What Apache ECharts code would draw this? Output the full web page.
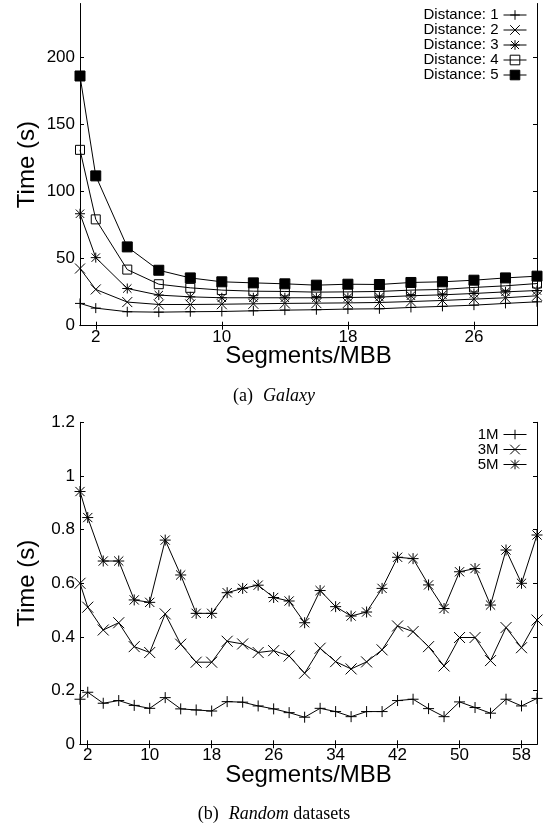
<!DOCTYPE html>
<html><head><meta charset="utf-8">
<script src="https://cdn.jsdelivr.net/npm/echarts@6/dist/echarts.min.js"></script>
<style>html,body{margin:0;padding:0;background:#fff}#c{width:548px;height:825px}</style>
</head><body><div id="c"></div>
<script>
// ---- Chart (a) Galaxy ----
const segA = [1,2,4,6,8,10,12,14,16,18,20,22,24,26,28,30];
const dist1 = [16.6,13.1,10.4,10.1,10.4,10.6,11.1,11.6,11.9,12.4,12.6,13.6,14.4,15.3,16.6,17.8];
const dist2 = [42.6,27.0,17.6,15.8,15.8,16.0,16.3,16.6,16.8,17.0,17.3,18.0,18.8,19.8,20.8,22.3];
const dist3 = [83.4,50.7,27.7,22.8,21.5,20.8,20.8,20.8,20.8,21.0,21.3,22.3,23.0,24.0,25.2,26.2];
const dist4 = [131,79.2,41.8,30.9,28.2,26.5,25.7,25.5,25.0,25.2,25.5,26.5,27.0,28.5,29.7,31.4];
const dist5 = [186,111.6,58.7,41.3,35.6,32.7,31.9,31.2,30.2,30.9,30.7,32.2,32.7,33.9,35.6,36.9];
const xTicksA = [2,10,18,26];
const yTicksA = [0,50,100,150,200];
const namesA = ['Distance: 1','Distance: 2','Distance: 3','Distance: 4','Distance: 5'];

// ---- Chart (b) Random datasets ----
const segB = [1,2,4,6,8,10,12,14,16,18,20,22,24,26,28,30,32,34,36,38,40,42,44,46,48,50,52,54,56,58,60];
const r1M = [0.168,0.194,0.153,0.163,0.145,0.134,0.174,0.132,0.128,0.124,0.159,0.157,0.143,0.132,0.118,0.101,0.134,0.122,0.103,0.122,0.122,0.163,0.168,0.133,0.103,0.158,0.137,0.116,0.168,0.143,0.171];
const r3M = [0.600,0.511,0.426,0.453,0.364,0.342,0.486,0.373,0.306,0.306,0.384,0.374,0.342,0.349,0.329,0.265,0.358,0.308,0.281,0.307,0.352,0.441,0.420,0.364,0.292,0.398,0.398,0.312,0.435,0.360,0.463];
const r5M = [0.942,0.845,0.683,0.683,0.538,0.529,0.761,0.631,0.488,0.488,0.565,0.581,0.593,0.547,0.534,0.453,0.573,0.513,0.478,0.493,0.581,0.697,0.692,0.594,0.506,0.643,0.655,0.519,0.724,0.600,0.780];
const xTicksB = [2,10,18,26,34,42,50,58];
const yTicksB = [0,0.2,0.4,0.6,0.8,1,1.2];
const namesB = ['1M','3M','5M'];

const SANS = 'Liberation Sans';
const SERIF = 'Liberation Serif';
const PLUS = 'path://M0,5L10,5M5,0L5,10';
const CROSS = 'path://M0,0L10,10M10,0L0,10';
const STAR = 'path://M0,5L10,5M5,0L5,10M0.8,0.8L9.2,9.2M9.2,0.8L0.8,9.2';
const SQUARE = 'path://M0,0L10,0L10,10L0,10Z';

const axisLine = {show:true, lineStyle:{color:'#000', width:1}};
function tick(vals){ return {show:true, inside:true, length:4, customValues:vals, lineStyle:{color:'#000', width:1}}; }
const labelStyle = {fontSize:17, color:'#000', fontFamily:SANS};

function xAxes(g, min, max, ticks){
  return [
    {type:'value', gridIndex:g, min, max, position:'bottom', axisLine, axisTick:tick(ticks),
     axisLabel:Object.assign({customValues:ticks, margin:3}, labelStyle), splitLine:{show:false},
     name:'Segments/MBB', nameLocation:'middle', nameGap:19, nameMoveOverlap:false,
     nameTextStyle:{fontSize:24, color:'#000', fontFamily:SANS}},
    {type:'value', gridIndex:g, min, max, position:'top', axisLine, axisTick:tick(ticks),
     axisLabel:{show:false}, splitLine:{show:false}}
  ];
}
function yAxes(g, min, max, ticks){
  return [
    {type:'value', gridIndex:g, min, max, position:'left', axisLine, axisTick:tick(ticks),
     axisLabel:Object.assign({customValues:ticks, margin:5}, labelStyle), splitLine:{show:false},
     name:'Time (s)', nameLocation:'middle', nameGap:41, nameMoveOverlap:false,
     nameTextStyle:{fontSize:24, color:'#000', fontFamily:SANS}},
    {type:'value', gridIndex:g, min, max, position:'right', axisLine, axisTick:tick(ticks),
     axisLabel:{show:false}, splitLine:{show:false}}
  ];
}
function pairs(xs, ys){ return xs.map((x,i)=>[x, ys[i]]); }
function ser(name, xi, yi, xs, ys, symbol, size, fill){
  return {type:'line', name, xAxisIndex:xi, yAxisIndex:yi, data:pairs(xs, ys),
    symbol, symbolSize:size, showAllSymbol:true,
    lineStyle:{color:'#000', width:1},
    itemStyle:{color:fill, borderColor:'#000', borderWidth:1},
    emphasis:{disabled:true}, silent:true, animation:false};
}
const legendBase = {orient:'vertical', right:21, align:'right', itemWidth:23, itemHeight:12,
  itemGap:0, padding:0, selectedMode:false,
  itemStyle:{borderWidth:1}, lineStyle:{width:1},
  textStyle:{fontSize:15, color:'#000', fontFamily:SANS, lineHeight:14.7}};
const capRich = {
  n:{fontFamily:SERIF, fontSize:18, color:'#000', fontWeight:'normal'},
  s:{fontFamily:SERIF, fontSize:18, width:10, fontWeight:'normal'},
  i:{fontFamily:SERIF, fontSize:18, fontStyle:'italic', color:'#000', fontWeight:'normal'}
};

const option = {
  backgroundColor:'#fff',
  animation:false,
  grid:[
    {left:80, right:11, top:3.5, height:322.2, containLabel:false},
    {left:80, right:11, top:422.3, height:322, containLabel:false}
  ],
  xAxis:[...xAxes(0, 1, 30, xTicksA), ...xAxes(1, 1, 60, xTicksB)],
  yAxis:[...yAxes(0, 0, 240, yTicksA), ...yAxes(1, 0, 1.2, yTicksB)],
  legend:[
    Object.assign({data:namesA, top:7.5}, legendBase),
    Object.assign({data:namesB, top:427}, legendBase)
  ],
  title:[
    {text:'{n|(a)}{s| }{i|Galaxy}', left:'center', top:382,
     textStyle:{fontWeight:'normal', rich:capRich}},
    {text:'{n|(b)}{s| }{i|Random}{n| datasets}', left:'center', top:800,
     textStyle:{fontWeight:'normal', rich:capRich}}
  ],
  series:[
    ser(namesA[0], 0, 0, segA, dist1, PLUS, 10, '#000'),
    ser(namesA[1], 0, 0, segA, dist2, CROSS, 10, '#000'),
    ser(namesA[2], 0, 0, segA, dist3, STAR, 10, '#000'),
    ser(namesA[3], 0, 0, segA, dist4, SQUARE, 9, 'rgba(0,0,0,0)'),
    ser(namesA[4], 0, 0, segA, dist5, 'rect', 10, '#000'),
    ser(namesB[0], 2, 2, segB, r1M, PLUS, 11, '#000'),
    ser(namesB[1], 2, 2, segB, r3M, CROSS, 11, '#000'),
    ser(namesB[2], 2, 2, segB, r5M, STAR, 11, '#000')
  ]
};
const chart = echarts.init(document.getElementById('c'));
chart.setOption(option);
</script>
</body></html>
